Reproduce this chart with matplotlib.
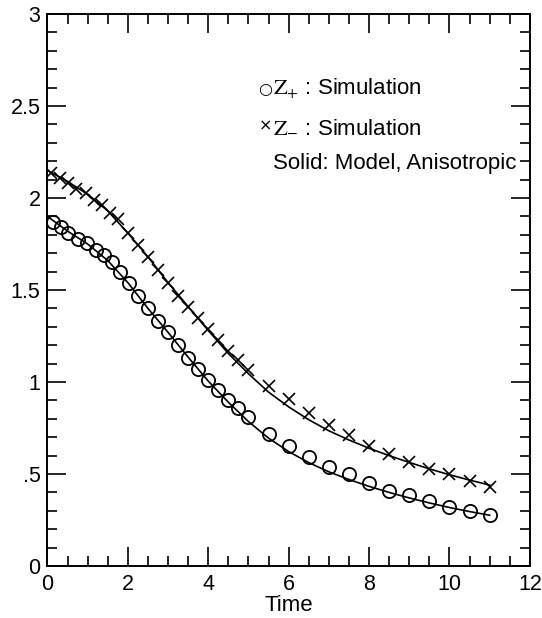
import matplotlib
matplotlib.use("Agg")
import matplotlib.pyplot as plt
from matplotlib.ticker import MultipleLocator

plt.rcParams["font.family"] = ["Liberation Sans", "DejaVu Sans"]
plt.rcParams["mathtext.fontset"] = "stix"

# Z+ simulation (circles)
t_plus = [0.14, 0.33, 0.52, 0.75, 0.98, 1.2, 1.4, 1.6, 1.8, 2.03,
          2.25, 2.5, 2.75, 3.0, 3.25, 3.5, 3.75, 4.0, 4.25, 4.5, 4.75, 5.0,
          5.5, 6.0, 6.5, 7.0, 7.5, 8.0, 8.5, 9.0, 9.5, 10.0, 10.5, 11.0]
z_plus = [1.87, 1.84, 1.81, 1.78, 1.755, 1.72, 1.69, 1.65, 1.60, 1.54,
          1.47, 1.40, 1.33, 1.27, 1.20, 1.13, 1.07, 1.01, 0.955, 0.905, 0.86, 0.81,
          0.72, 0.65, 0.59, 0.54, 0.50, 0.45, 0.41, 0.385, 0.355, 0.32, 0.30, 0.28]

# Z- simulation (crosses)
t_minus = [0.1, 0.3, 0.5, 0.72, 0.95, 1.15, 1.35, 1.55, 1.75,
           2.0, 2.25, 2.5, 2.75, 3.0, 3.25, 3.5, 3.75, 4.0, 4.25, 4.5, 4.75, 5.0,
           5.5, 6.0, 6.5, 7.0, 7.5, 8.0, 8.5, 9.0, 9.5, 10.0, 10.5, 11.0]
z_minus = [2.136, 2.11, 2.08, 2.05, 2.03, 1.99, 1.96, 1.92, 1.885,
           1.81, 1.745, 1.68, 1.61, 1.54, 1.47, 1.41, 1.35, 1.29, 1.23, 1.17, 1.12, 1.065,
           0.98, 0.91, 0.83, 0.765, 0.71, 0.655, 0.61, 0.565, 0.53, 0.50, 0.46, 0.43]

# anisotropic model curves (solid)
t_model = [0.0, 0.5, 1.0, 1.5, 2.0, 2.5, 3.0, 3.5, 4.0, 4.5, 5.0, 5.5,
           6.0, 6.5, 7.0, 7.5, 8.0, 8.5, 9.0, 9.5, 10.0, 10.5, 11.0]
model_plus = [1.90, 1.82, 1.75, 1.66, 1.54, 1.40, 1.27, 1.135, 1.005, 0.89, 0.785, 0.695,
              0.622, 0.562, 0.512, 0.47, 0.433, 0.40, 0.37, 0.343, 0.318, 0.296, 0.276]
model_minus = [2.15, 2.09, 2.02, 1.93, 1.81, 1.68, 1.54, 1.41, 1.28, 1.155, 1.045, 0.945,
               0.865, 0.795, 0.735, 0.685, 0.64, 0.60, 0.563, 0.528, 0.496, 0.467, 0.44]

x_ticks = [0, 2, 4, 6, 8, 10, 12]
y_ticks = [0, 0.5, 1, 1.5, 2, 2.5, 3]
y_tick_labels = ["0", ".5", "1", "1.5", "2", "2.5", "3"]

key_symbols = ["\u25cb", "\u00d7", ""]
key_labels = [r"$\mathrm{Z}_{+}$ : Simulation",
              r"$\mathrm{Z}_{-}$ : Simulation",
              "Solid: Model, Anisotropic"]

fig = plt.figure(figsize=(5.42, 6.18), dpi=100)
ax = fig.add_axes([0.0876, 0.0841, 0.8900, 0.8932])

ax.plot(t_model, model_plus, "k-", lw=1.2)
ax.plot(t_model, model_minus, "k-", lw=1.2)
ax.plot(t_plus, z_plus, "o", ms=9.5, mfc="none", mec="k", mew=1.3)
ax.plot(t_minus, z_minus, "x", ms=8.5, mec="k", mew=1.2)

ax.set_xlim(0, 12)
ax.set_ylim(0, 3)
ax.set_xticks(x_ticks)
ax.set_yticks(y_ticks)
ax.set_yticklabels(y_tick_labels)
ax.xaxis.set_minor_locator(MultipleLocator(0.5))
ax.yaxis.set_minor_locator(MultipleLocator(0.1))
ax.tick_params(which="both", direction="in", top=True, right=True,
               width=1.2, labelsize=15.5)
ax.tick_params(axis="x", which="major", pad=6)
ax.tick_params(axis="y", which="major", pad=5)
ax.tick_params(which="major", length=14)
ax.tick_params(which="minor", length=7)
for s in ax.spines.values():
    s.set_linewidth(1.4)

ax.set_xlabel("Time", fontsize=16, labelpad=0)

# key drawn as text lines
key_y = [0.853, 0.786, 0.719]
for sym, lab, y in zip(key_symbols, key_labels, key_y):
    if sym:
        ax.text(0.451, y + 0.003, sym, transform=ax.transAxes, ha="center",
                va="baseline", fontsize=11.5, family="DejaVu Sans")
    ax.text(0.467, y, lab, transform=ax.transAxes, ha="left",
            va="baseline", fontsize=16)

fig.savefig("out.png", dpi=100)
